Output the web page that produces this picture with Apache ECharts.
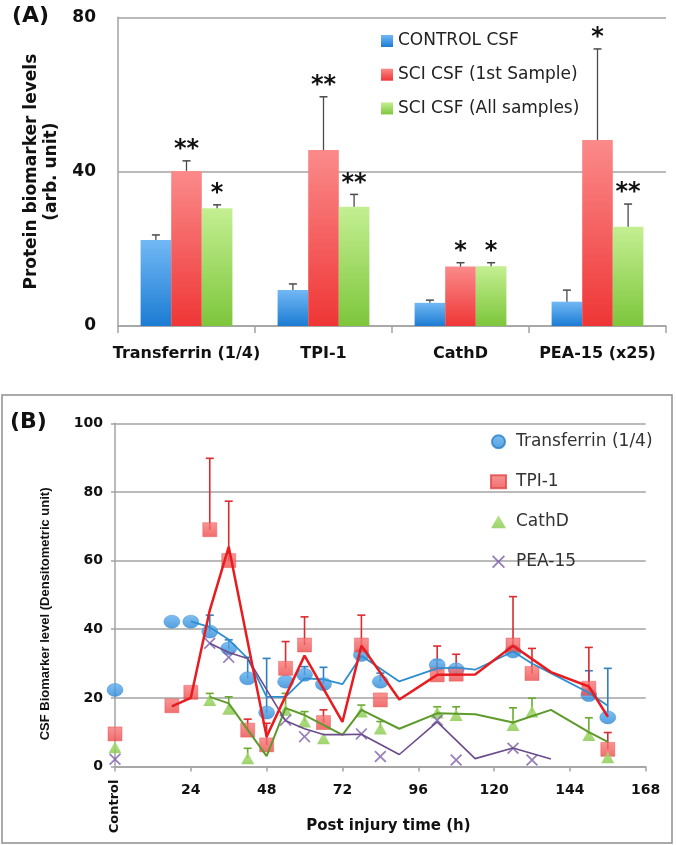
<!DOCTYPE html>
<html><head><meta charset="utf-8">
<script src="https://cdn.jsdelivr.net/npm/echarts@6/dist/echarts.min.js"></script>
<style>html,body{margin:0;padding:0;background:#fff}#c{width:676px;height:845px}</style>
</head><body><div id="c"></div>
<script>
// ---------- Panel A data ----------
const catA = ['Transferrin (1/4)', 'TPI-1', 'CathD', 'PEA-15 (x25)'];
const namesA = ['CONTROL CSF', 'SCI CSF (1st Sample)', 'SCI CSF (All samples)'];
const controlA = [22.3, 9.3, 6.0, 6.3];
const controlSdA = [1.3, 1.6, 0.7, 3.0];
const sci1A = [40.2, 45.6, 15.4, 48.2];
const sci1SdA = [2.6, 13.8, 1.0, 23.6];
const sciAllA = [30.5, 30.9, 15.5, 25.7];
const sciAllSdA = [0.9, 3.2, 0.9, 5.9];
const starsControl = ['', '', '', ''];
const starsSci1 = ['**', '**', '*', '*'];
const starsSciAll = ['*', '**', '*', '**'];
const ticksA = [0, 40, 80];

// ---------- Panel B data ----------
const namesB = ['Transferrin (1/4)', 'TPI-1', 'CathD', 'PEA-15'];
const timesT = [0, 18, 24, 30, 36, 42, 48, 54, 60, 66, 78, 84, 102, 108, 126, 150, 156];
const transferrin = [22.3, 42.2, 42.2, 39.3, 34.4, 25.7, 15.7, 24.7, 26.7, 24.0, 32.5, 24.7, 29.6, 28.3, 33.5, 20.8, 14.3];
const transferrinSd = [0, 0, 0, 4.8, 2.5, 6.1, 15.8, 0, 2.4, 4.9, 0, 2.5, 1.4, 0, 0, 7.1, 14.3];
const timesP = [0, 18, 24, 30, 36, 42, 48, 54, 60, 66, 78, 84, 102, 108, 126, 132, 150, 156];
const tpi = [9.5, 17.7, 21.6, 69.0, 60.0, 10.6, 6.3, 28.6, 35.4, 12.8, 35.4, 19.4, 26.7, 26.9, 35.4, 27.1, 22.8, 5.0];
const tpiSd = [0, 0, 0, 20.8, 17.3, 3.2, 6.3, 7.8, 8.2, 3.7, 8.7, 0, 8.4, 5.8, 14.1, 7.3, 11.9, 4.9];
const timesC = [0, 30, 36, 42, 54, 60, 66, 78, 84, 102, 108, 126, 132, 150, 156];
const cathd = [5.6, 19.4, 16.8, 2.4, 16.5, 13.1, 8.2, 16.0, 11.1, 15.7, 15.0, 12.1, 16.0, 9.2, 2.7];
const cathdSd = [0, 1.9, 3.5, 2.9, 4.8, 2.9, 0, 1.9, 2.0, 1.7, 2.4, 5.0, 3.9, 5.0, 0];
const timesE = [0, 30, 36, 54, 60, 78, 84, 102, 108, 126, 132];
const pea = [2.1, 35.9, 31.8, 13.5, 8.7, 9.5, 2.9, 13.5, 1.9, 5.3, 1.9];

// moving-average trend lines (vertices)
const trendTx = [24, 30, 36, 42, 48, 54, 60, 66, 72, 78, 90, 102, 108, 114, 126, 132, 138, 150, 156];
const trendTy = [42.3, 40.6, 37.0, 31.5, 20.3, 20.3, 25.7, 25.4, 24.0, 32.3, 24.8, 28.6, 28.8, 28.2, 33.5, 30.0, 27.2, 21.5, 17.7];
const trendPx = [18, 24, 30, 36, 48, 60, 72, 78, 90, 102, 114, 126, 138, 150, 156];
const trendPy = [17.5, 20.0, 45.5, 64.0, 8.7, 32.3, 13.0, 35.2, 19.5, 26.7, 26.8, 35.2, 27.5, 23.3, 14.5];
const trendCx = [30, 36, 48, 54, 60, 72, 78, 90, 102, 114, 126, 138, 150, 156];
const trendCy = [20.3, 18.4, 3.0, 17.0, 15.0, 9.2, 16.5, 11.0, 15.5, 15.2, 12.8, 16.5, 10.0, 7.2];
const trendEx = [30, 36, 42, 54, 60, 66, 72, 78, 90, 102, 114, 126, 138];
const trendEy = [35.9, 33.2, 31.5, 13.3, 11.0, 9.3, 9.3, 9.4, 3.5, 13.0, 2.3, 5.4, 2.2];

// ---------- helpers ----------
const zip = (a, b) => a.map((v, i) => [v, b[i]]);
const grad = (top, bottom) => ({type: 'linear', x: 0, y: 0, x2: 0, y2: 1,
  colorStops: [{offset: 0, color: top}, {offset: 1, color: bottom}]});
const barColors = [grad('#72b8f5', '#1b7cd3'), grad('#fb8a8a', '#ef3636'), grad('#c4ef92', '#7dc63b')];
const BW = 30.6;
const FONT = 'DejaVu Sans';

function barErr(k, vals, sds, stars) {
  return {
    type: 'custom', xAxisIndex: 0, yAxisIndex: 0, z: 5,
    data: vals.map((v, i) => [i, v, sds[i]]),
    renderItem: function (params, api) {
      const i = api.value(0), v = api.value(1), sd = api.value(2);
      const p0 = api.coord([i, v]);
      const p1 = api.coord([i, v + sd]);
      const x = p0[0] + (k - 1) * BW;
      const ch = [
        {type: 'line', shape: {x1: x, y1: p0[1], x2: x, y2: p1[1]}, style: {stroke: '#4a4a4a', lineWidth: 1.3}},
        {type: 'line', shape: {x1: x - 4, y1: p1[1], x2: x + 4, y2: p1[1]}, style: {stroke: '#4a4a4a', lineWidth: 1.5}}
      ];
      const s = stars[params.dataIndex];
      if (s) ch.push({type: 'text', style: {text: s, x: x, y: p1[1] - 11, align: 'center', verticalAlign: 'middle',
        font: 'bold 24px "DejaVu Sans"', fill: '#111'}});
      return {type: 'group', children: ch};
    }
  };
}

function ptErr(xs, ys, sds, color) {
  return {
    type: 'custom', xAxisIndex: 1, yAxisIndex: 1, z: 1,
    data: xs.map((x, i) => [x, ys[i], sds[i]]),
    renderItem: function (params, api) {
      const x = api.value(0), y = api.value(1), sd = api.value(2);
      if (!(sd > 0)) return null;
      const p0 = api.coord([x, y]), p1 = api.coord([x, y + sd]);
      return {type: 'group', children: [
        {type: 'line', shape: {x1: p0[0], y1: p0[1], x2: p0[0], y2: p1[1]}, style: {stroke: color, lineWidth: 1.6}},
        {type: 'line', shape: {x1: p0[0] - 4, y1: p1[1], x2: p0[0] + 4, y2: p1[1]}, style: {stroke: color, lineWidth: 1.6}}
      ]};
    }
  };
}

function trend(xs, ys, color, w) {
  return {type: 'line', xAxisIndex: 1, yAxisIndex: 1, z: 4, data: zip(xs, ys), showSymbol: false,
    symbol: 'none', silent: true, lineStyle: {color: color, width: w}, itemStyle: {color: color}};
}

const xPath = 'path://M1,0 L5,4 L9,0 L10,1 L6,5 L10,9 L9,10 L5,6 L1,10 L0,9 L4,5 L0,1 Z';
const gridGrey = '#a3a3a3';

const option = {
  animation: false,
  textStyle: {fontFamily: FONT},
  grid: [
    {left: 118, right: 10, top: 17.3, bottom: 519},
    {left: 115, right: 30.3, top: 423.3, bottom: 78.5}
  ],
  legend: [
    {data: namesA, orient: 'vertical', left: 376, top: 26, itemWidth: 12, itemHeight: 12, itemGap: 13.7,
      icon: 'rect', textStyle: {fontFamily: FONT, fontSize: 17, color: '#222', lineHeight: 20}},
    {data: namesB, orient: 'vertical', left: 485, top: 426.7, itemWidth: 15, itemHeight: 13, itemGap: 20,
      textStyle: {fontFamily: FONT, fontSize: 17, color: '#333', lineHeight: 20, padding: [0, 0, 0, 5]}}
  ],
  xAxis: [
    {type: 'category', gridIndex: 0, data: catA, boundaryGap: true,
      axisLine: {lineStyle: {color: gridGrey, width: 1.5}},
      axisTick: {show: true, length: 7, lineStyle: {color: gridGrey, width: 1.5}},
      axisLabel: {interval: 0, margin: 20, color: '#111', fontWeight: 'bold', fontSize: 16, fontFamily: FONT}},
    {type: 'value', gridIndex: 1, position: 'bottom', min: 0, max: 168, interval: 24,
      axisLine: {lineStyle: {color: gridGrey, width: 1.5}},
      axisTick: {show: true, length: 5, lineStyle: {color: gridGrey, width: 1.5}},
      splitLine: {show: false},
      axisLabel: {margin: 17, color: '#111', fontWeight: 'bold', fontSize: 14, fontFamily: FONT,
        formatter: v => (v === 0 ? '' : String(v))},
      name: 'Post injury time (h)', nameLocation: 'middle', nameGap: 52,
      nameTextStyle: {fontWeight: 'bold', fontSize: 15, color: '#111', fontFamily: FONT, padding: [0, 0, 0, 16]}},
    {type: 'value', gridIndex: 1, position: 'bottom', offset: 0, min: 0, max: 168, interval: 24,
      axisLine: {show: false}, axisTick: {show: false}, splitLine: {show: false},
      axisLabel: {rotate: 90, margin: 13, color: '#111', fontWeight: 'bold', fontSize: 13, fontFamily: FONT,
        formatter: v => (v === 0 ? 'Control' : '')}}
  ],
  yAxis: [
    {type: 'value', gridIndex: 0, min: 0, max: 80, interval: 40,
      axisLine: {show: true, lineStyle: {color: gridGrey, width: 1.5}},
      axisTick: {show: false},
      splitLine: {lineStyle: {color: gridGrey, width: 1.5}},
      axisLabel: {margin: 22, color: '#111', fontWeight: 'bold', fontSize: 17, fontFamily: FONT,
        formatter: v => (ticksA.indexOf(v) >= 0 ? String(v) : '')},
      name: 'Protein biomarker levels\n(arb. unit)', nameLocation: 'middle', nameGap: 48, nameRotate: 90,
      nameTextStyle: {fontWeight: 'bold', fontSize: 17, lineHeight: 20, color: '#111', fontFamily: FONT}},
    {type: 'value', gridIndex: 1, min: 0, max: 100, interval: 20,
      axisLine: {show: true, lineStyle: {color: gridGrey, width: 1.5}},
      axisTick: {show: true, length: 4, lineStyle: {color: gridGrey, width: 1.5}},
      splitLine: {lineStyle: {color: gridGrey, width: 1.5}},
      axisLabel: {margin: 12, color: '#111', fontWeight: 'bold', fontSize: 14, fontFamily: FONT},
      name: 'CSF Biomarker level (Densitometric unit)', nameLocation: 'middle', nameGap: 63, nameRotate: 90,
      nameTextStyle: {fontWeight: 'bold', fontSize: 13, color: '#111', fontFamily: 'Liberation Sans', padding: [0, 38, 0, 0]}}
  ],
  series: [
    {name: namesA[0], type: 'bar', xAxisIndex: 0, yAxisIndex: 0, data: controlA, barWidth: BW, barGap: '0%',
      itemStyle: {color: barColors[0]}},
    {name: namesA[1], type: 'bar', xAxisIndex: 0, yAxisIndex: 0, data: sci1A, barWidth: BW, barGap: '0%',
      itemStyle: {color: barColors[1]}},
    {name: namesA[2], type: 'bar', xAxisIndex: 0, yAxisIndex: 0, data: sciAllA, barWidth: BW, barGap: '0%',
      itemStyle: {color: barColors[2]}},
    barErr(0, controlA, controlSdA, starsControl),
    barErr(1, sci1A, sci1SdA, starsSci1),
    barErr(2, sciAllA, sciAllSdA, starsSciAll),

    ptErr(timesT, transferrin, transferrinSd, '#2f7fc2'),
    ptErr(timesP, tpi, tpiSd, '#dc2a2e'),
    ptErr(timesC, cathd, cathdSd, '#6aaa30'),

    {name: namesB[0], type: 'scatter', xAxisIndex: 1, yAxisIndex: 1, z: 3, data: zip(timesT, transferrin),
      symbol: 'circle', symbolSize: [16, 13],
      itemStyle: {color: grad('#5fb0f0', '#2a86d6'), borderColor: '#2a7fc8', borderWidth: 0.5}},
    {name: namesB[1], type: 'scatter', xAxisIndex: 1, yAxisIndex: 1, z: 3, data: zip(timesP, tpi),
      symbol: 'rect', symbolSize: 14,
      itemStyle: {color: grad('#f77a7a', '#ee4a4a'), borderColor: '#e04646', borderWidth: 0.5}},
    {name: namesB[2], type: 'scatter', xAxisIndex: 1, yAxisIndex: 1, z: 3, data: zip(timesC, cathd),
      symbol: 'triangle', symbolSize: [13, 12],
      itemStyle: {color: grad('#a6dc6c', '#86c84a')}},
    {name: namesB[3], type: 'scatter', xAxisIndex: 1, yAxisIndex: 1, z: 3, data: zip(timesE, pea),
      symbol: xPath, symbolSize: 12,
      itemStyle: {color: '#7b5ea8'}},

    trend(trendTx, trendTy, '#2d8fd0', 1.8),
    trend(trendCx, trendCy, '#5e9a2c', 2),
    trend(trendEx, trendEy, '#6a4b8c', 1.6),
    trend(trendPx, trendPy, '#e81b1f', 2.5)
  ],
  graphic: [
    {type: 'text', left: 12, top: 5, style: {text: '(A)', font: 'bold 22px "DejaVu Sans"', fill: '#111'}},
    {type: 'rect', shape: {x: 2, y: 395, width: 670, height: 448}, z: -1,
      style: {fill: 'none', stroke: '#8f8f8f', lineWidth: 1.5}},
    {type: 'text', left: 10, top: 411, style: {text: '(B)', font: 'bold 22px "DejaVu Sans"', fill: '#111'}}
  ]
};

const chart = echarts.init(document.getElementById('c'), null, {renderer: 'canvas'});
chart.setOption(option);
</script>
</body></html>
